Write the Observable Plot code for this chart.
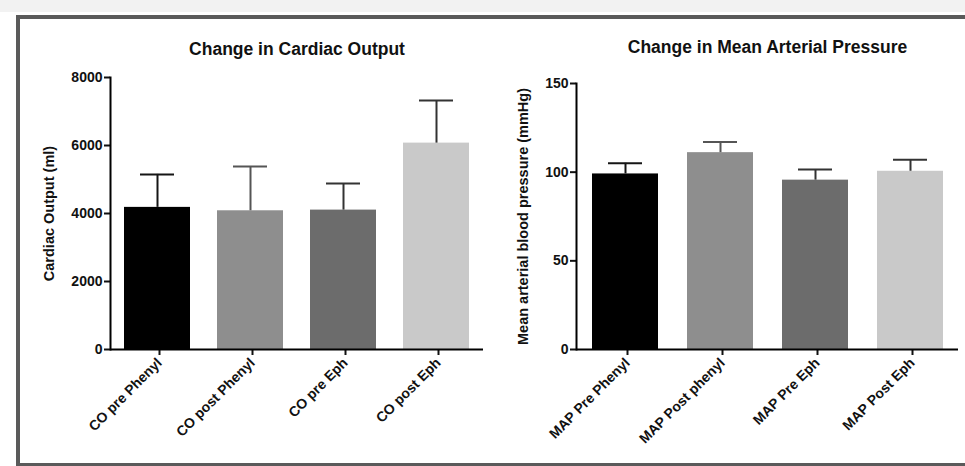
<!DOCTYPE html>
<html>
<head>
<meta charset="utf-8">
<script src="https://cdn.jsdelivr.net/npm/d3@7"></script>
<script src="https://cdn.jsdelivr.net/npm/@observablehq/plot@0.6"></script>
<style>
  html, body { margin: 0; padding: 0; background: #fff; }
  #wrap { position: relative; width: 965px; height: 466px; overflow: hidden; background: #fff; }
  #strip { position: absolute; left: 0; top: 0; width: 965px; height: 12px; background: #f2f2f2; }
  #frame { position: absolute; left: 16px; top: 15px; width: 1000px; height: 444px; border: 4px solid #5a5a5a; box-sizing: content-box; }
  #wrap svg { position: absolute; top: 0; }
</style>
</head>
<body>
<div id="wrap"><div id="strip"></div><div id="frame"></div></div>
<script>
const coCats = ["CO pre Phenyl", "CO post Phenyl", "CO pre Eph", "CO post Eph"];
const coMean = [4180, 4080, 4100, 6070];
const coUpper = [5150, 5380, 4880, 7320];
const coTicks = [0, 2000, 4000, 6000, 8000];

const mapCats = ["MAP Pre Phenyl", "MAP Post phenyl", "MAP Pre Eph", "MAP Post Eph"];
const mapMean = [99, 111, 95.5, 100.5];
const mapUpper = [105, 117, 101.5, 107];
const mapTicks = [0, 50, 100, 150];

const barColors = ["#000000", "#8e8e8e", "#6c6c6c", "#c9c9c9"];
const errColors = ["#151515", "#555555", "#333333", "#333333"];

function panel(o) {
  const data = o.cats.map((c, i) => ({cat: c, mean: o.mean[i], upper: o.upper[i], idx: i}));
  const svg = Plot.plot({
    width: o.width, height: 466,
    marginLeft: o.mL, marginRight: o.mR, marginTop: o.mT, marginBottom: 117,
    style: {fontFamily: "'Liberation Sans', Arial, sans-serif", fontWeight: "bold", fontSize: "14px", background: "transparent", overflow: "visible", color: "#111"},
    x: {domain: o.cats, paddingInner: o.pInner, paddingOuter: o.pOuter, label: null},
    y: {domain: [0, o.yMax], label: null},
    color: {domain: o.cats, range: barColors},
    marks: [
      Plot.barY(data, {x: "cat", y: "mean", fill: "cat"}),
      Plot.ruleX(data, {x: "cat", y1: "mean", y2: "upper", stroke: (d) => errColors[d.idx], strokeWidth: 2}),
      Plot.tickY(data, {x: "cat", y: "upper", stroke: (d) => errColors[d.idx], strokeWidth: 2, insetLeft: 16, insetRight: 16}),
      Plot.axisY({ticks: o.ticks, tickSize: 6, tickPadding: 2, tickFormat: "d", fontSize: 14, strokeWidth: 2}),
      Plot.axisY({ticks: [], label: o.ylabel, labelAnchor: "center", labelArrow: "none", labelOffset: o.labelOffset, fontSize: 14.5}),
      Plot.axisX({tickSize: 6, tickPadding: 5, dx: 2, tickRotate: -45, fontSize: 14, strokeWidth: 2, label: null}),
      Plot.frame({anchor: "left", stroke: "#000", strokeWidth: 2}),
      Plot.ruleY([0], {stroke: "#000", strokeWidth: 2}),
      Plot.text([o.title], {frameAnchor: "top", dy: o.titleDy, fontSize: 17.5, fontWeight: "bold", lineAnchor: "middle"})
    ]
  });
  svg.style.left = o.left + "px";
  return svg;
}

const wrap = document.getElementById("wrap");
wrap.appendChild(panel({
  cats: coCats, mean: coMean, upper: coUpper, ticks: coTicks, yMax: 8000,
  title: "Change in Cardiac Output", ylabel: "Cardiac Output (ml)",
  left: 0, width: 485, mL: 110, mR: 2, mT: 77, pInner: 0.294, pOuter: 0.14, titleDy: -28, labelOffset: 67
}));
wrap.appendChild(panel({
  cats: mapCats, mean: mapMean, upper: mapUpper, ticks: mapTicks, yMax: 150,
  title: "Change in Mean Arterial Pressure", ylabel: "Mean arterial blood pressure (mmHg)",
  left: 480, width: 485, mL: 96, mR: 7, mT: 83, pInner: 0.309, pOuter: 0.155, titleDy: -36, labelOffset: 59
}));
</script>
</body>
</html>
